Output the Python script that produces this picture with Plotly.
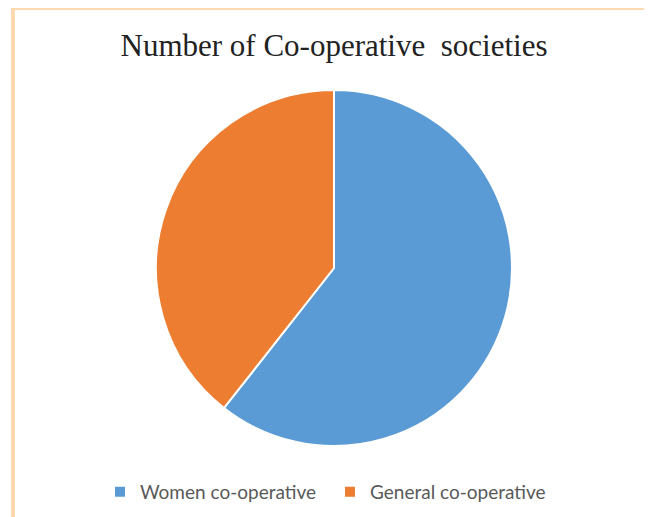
import plotly.graph_objects as go

labels = ["Women co-operative", "General co-operative"]
values = [60.6, 39.4]
colors = ["#5B9BD5", "#ED7D31"]

W, H = 652, 517
OFF = 8  # page body margin offset
top, bottom = 90 - OFF, 71 + OFF
ph = H - top - bottom

def py(p):
    return (H - bottom - (p - OFF)) / ph

def px(p):
    return (p - OFF) / W

fig = go.Figure(go.Pie(
    labels=labels, values=values, sort=False, direction="clockwise", rotation=0,
    marker=dict(colors=colors, line=dict(color="white", width=2)),
    textinfo="none", hoverinfo="label+value",
    domain=dict(x=[px(334) - 0.3, px(334) + 0.3], y=[0, 1]),
))

fig.update_layout(
    width=W, height=H,
    margin=dict(l=0, r=0, t=top, b=bottom),
    paper_bgcolor="white", plot_bgcolor="white",
    title=dict(text="Number of Co-operative  societies", x=px(334), xanchor="center",
               y=1 - (45 - OFF)/H, yanchor="middle",
               font=dict(family="Liberation Serif, Times New Roman, serif", size=31, color="#222222")),
    legend=dict(orientation="h", x=px(100), xanchor="left", y=py(492), yanchor="middle",
                font=dict(family="Lato, Open Sans, sans-serif", size=19, color="#595959"),
                entrywidth=185, entrywidthmode="pixels",
                itemsizing="constant", traceorder="normal"),
    shapes=[
        dict(type="line", xref="paper", yref="paper", x0=px(13), x1=1.0, y0=py(8), y1=py(8),
             line=dict(color="#FCD9B0", width=4)),
        dict(type="line", xref="paper", yref="paper", x0=px(13), x1=px(13), y0=py(6), y1=py(530),
             line=dict(color="#FCD9B0", width=4)),
    ],
)

fig.write_html("out.html")
